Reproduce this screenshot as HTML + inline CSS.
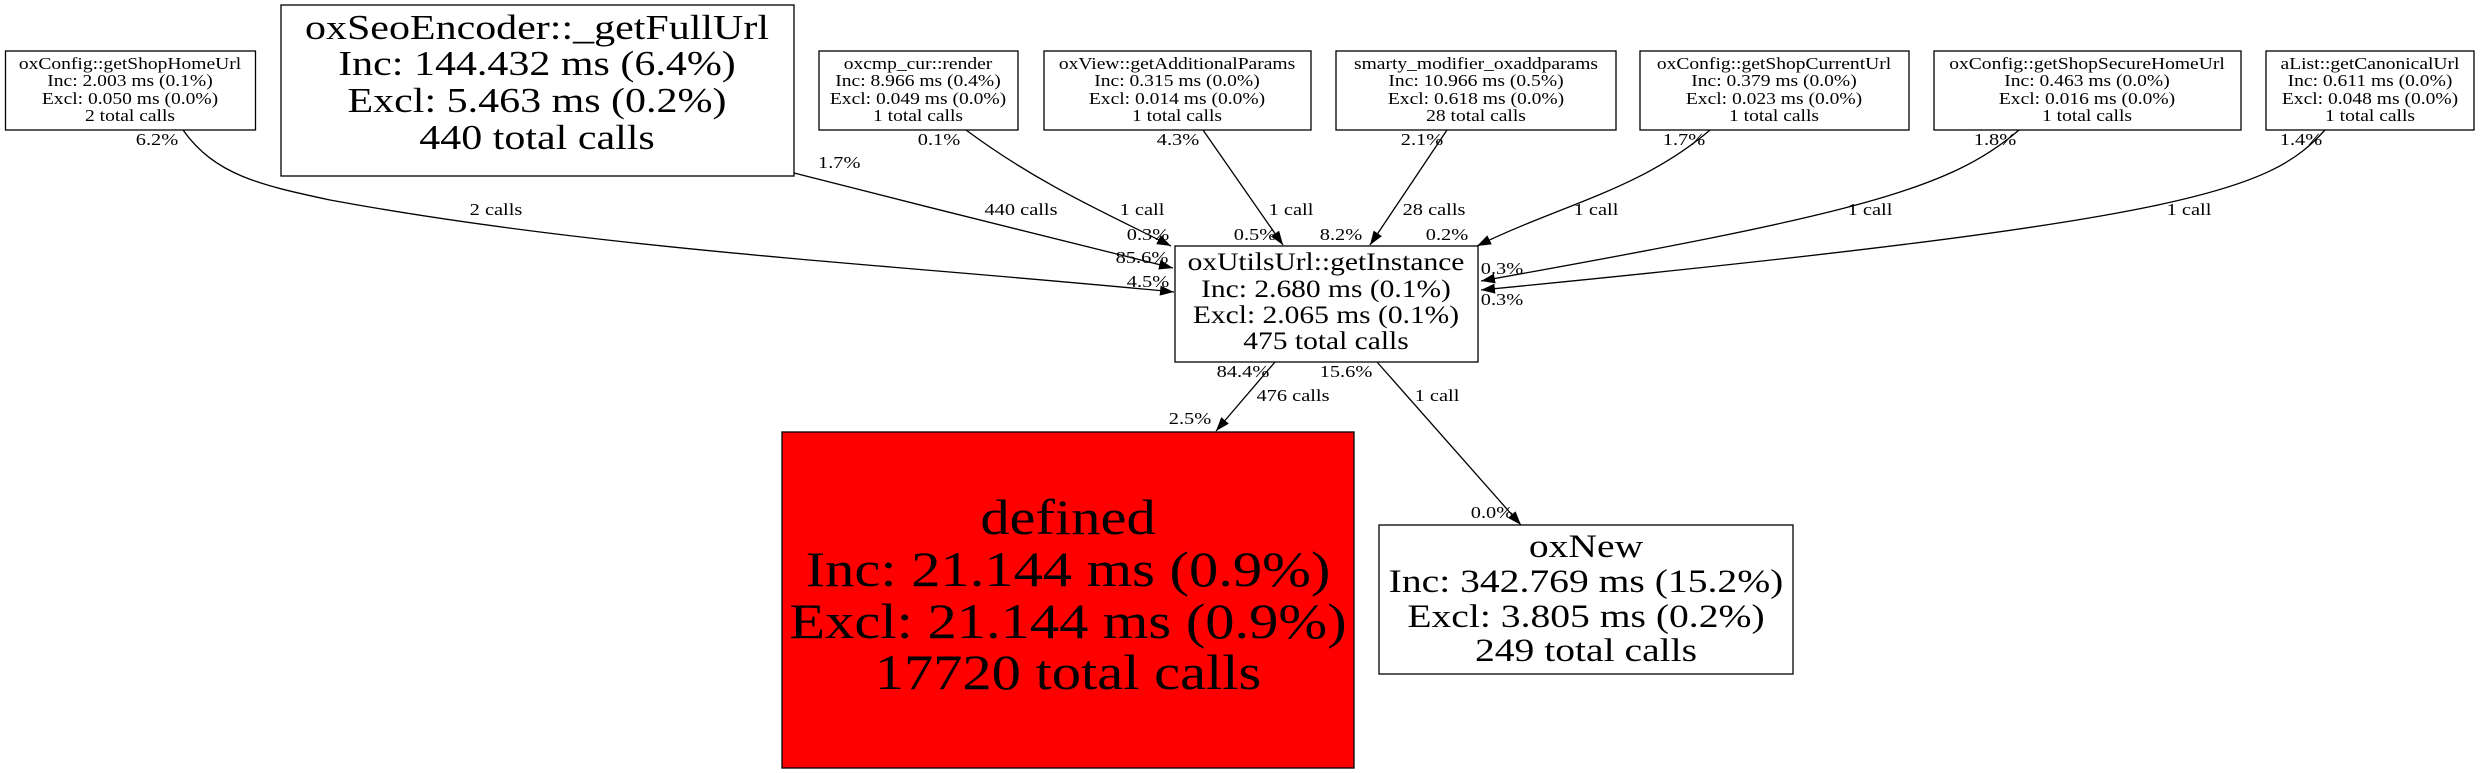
<!DOCTYPE html>
<html><head><meta charset="utf-8"><style>
html,body{margin:0;padding:0;background:#fff;}
svg{display:block}
text{font-family:"Liberation Serif",serif;fill:#000;text-anchor:middle}
.s{font-size:17px}
.e{font-size:17px}
</style></head><body>
<svg width="2480" height="773" viewBox="0 0 2480 773" xmlns="http://www.w3.org/2000/svg">
<defs>
<marker id="a" markerUnits="userSpaceOnUse" markerWidth="16" markerHeight="12" refX="14" refY="5" orient="auto">
<path d="M0,0 L14,5 L0,10 Z" fill="#000"/>
</marker>
</defs>
<g fill="none" stroke="#000" stroke-width="1.3">
<rect x="5.5" y="51" width="250" height="79"/>
<rect x="281" y="5" width="513" height="171"/>
<rect x="819" y="51" width="199" height="79"/>
<rect x="1044" y="51" width="267" height="79"/>
<rect x="1336" y="51" width="280" height="79"/>
<rect x="1640" y="51" width="269" height="79"/>
<rect x="1934" y="51" width="307" height="79"/>
<rect x="2266" y="51" width="208" height="79"/>
<rect x="1175" y="246" width="303" height="116"/>
<rect x="782" y="432" width="572" height="336" fill="#ff0000"/>
<rect x="1379" y="525" width="414" height="149"/>
<path d="M183,130 C215,175 260,185 330,200 C600,250 900,265 1174,292" marker-end="url(#a)"/>
<path d="M794,173 C920,205 1050,238 1173,268" marker-end="url(#a)"/>
<path d="M966,130 C1040,185 1110,215 1171,246" marker-end="url(#a)"/>
<path d="M1203,130 L1283,245" marker-end="url(#a)"/>
<path d="M1447,130 L1370,245" marker-end="url(#a)"/>
<path d="M1710,130 C1640,190 1560,205 1477,246" marker-end="url(#a)"/>
<path d="M2019,130 C1950,190 1850,215 1481,281" marker-end="url(#a)"/>
<path d="M2325,130 C2270,190 2200,220 1481,290" marker-end="url(#a)"/>
<path d="M1275,362 L1216,431" marker-end="url(#a)"/>
<path d="M1377,362 L1521,525" marker-end="url(#a)"/>
</g>
<g class="s">
<text transform="translate(130,69) scale(1.15,1)">oxConfig::getShopHomeUrl</text>
<text transform="translate(130,86) scale(1.15,1)">Inc: 2.003 ms (0.1%)</text>
<text transform="translate(130,104) scale(1.15,1)">Excl: 0.050 ms (0.0%)</text>
<text transform="translate(130,121) scale(1.15,1)">2 total calls</text>

<text transform="translate(918,69) scale(1.15,1)">oxcmp_cur::render</text>
<text transform="translate(918,86) scale(1.15,1)">Inc: 8.966 ms (0.4%)</text>
<text transform="translate(918,104) scale(1.15,1)">Excl: 0.049 ms (0.0%)</text>
<text transform="translate(918,121) scale(1.15,1)">1 total calls</text>

<text transform="translate(1177,69) scale(1.15,1)">oxView::getAdditionalParams</text>
<text transform="translate(1177,86) scale(1.15,1)">Inc: 0.315 ms (0.0%)</text>
<text transform="translate(1177,104) scale(1.15,1)">Excl: 0.014 ms (0.0%)</text>
<text transform="translate(1177,121) scale(1.15,1)">1 total calls</text>

<text transform="translate(1476,69) scale(1.15,1)">smarty_modifier_oxaddparams</text>
<text transform="translate(1476,86) scale(1.15,1)">Inc: 10.966 ms (0.5%)</text>
<text transform="translate(1476,104) scale(1.15,1)">Excl: 0.618 ms (0.0%)</text>
<text transform="translate(1476,121) scale(1.15,1)">28 total calls</text>

<text transform="translate(1774,69) scale(1.15,1)">oxConfig::getShopCurrentUrl</text>
<text transform="translate(1774,86) scale(1.15,1)">Inc: 0.379 ms (0.0%)</text>
<text transform="translate(1774,104) scale(1.15,1)">Excl: 0.023 ms (0.0%)</text>
<text transform="translate(1774,121) scale(1.15,1)">1 total calls</text>

<text transform="translate(2087,69) scale(1.15,1)">oxConfig::getShopSecureHomeUrl</text>
<text transform="translate(2087,86) scale(1.15,1)">Inc: 0.463 ms (0.0%)</text>
<text transform="translate(2087,104) scale(1.15,1)">Excl: 0.016 ms (0.0%)</text>
<text transform="translate(2087,121) scale(1.15,1)">1 total calls</text>

<text transform="translate(2370,69) scale(1.15,1)">aList::getCanonicalUrl</text>
<text transform="translate(2370,86) scale(1.15,1)">Inc: 0.611 ms (0.0%)</text>
<text transform="translate(2370,104) scale(1.15,1)">Excl: 0.048 ms (0.0%)</text>
<text transform="translate(2370,121) scale(1.15,1)">1 total calls</text>
</g>
<g style="font-size:35px">
<text transform="translate(537,39) scale(1.2,1)">oxSeoEncoder::_getFullUrl</text>
<text transform="translate(537,75) scale(1.2,1)">Inc: 144.432 ms (6.4%)</text>
<text transform="translate(537,112) scale(1.2,1)">Excl: 5.463 ms (0.2%)</text>
<text transform="translate(537,149) scale(1.2,1)">440 total calls</text>
</g>
<g style="font-size:25px">
<text transform="translate(1326,270) scale(1.18,1)">oxUtilsUrl::getInstance</text>
<text transform="translate(1326,297) scale(1.18,1)">Inc: 2.680 ms (0.1%)</text>
<text transform="translate(1326,323) scale(1.18,1)">Excl: 2.065 ms (0.1%)</text>
<text transform="translate(1326,349) scale(1.18,1)">475 total calls</text>
</g>
<g style="font-size:50px">
<text transform="translate(1068,534) scale(1.17,1)">defined</text>
<text transform="translate(1068,586) scale(1.17,1)">Inc: 21.144 ms (0.9%)</text>
<text transform="translate(1068,638) scale(1.17,1)">Excl: 21.144 ms (0.9%)</text>
<text transform="translate(1068,689) scale(1.17,1)">17720 total calls</text>
</g>
<g style="font-size:33px">
<text transform="translate(1586,557) scale(1.2,1)">oxNew</text>
<text transform="translate(1586,592) scale(1.2,1)">Inc: 342.769 ms (15.2%)</text>
<text transform="translate(1586,627) scale(1.2,1)">Excl: 3.805 ms (0.2%)</text>
<text transform="translate(1586,661) scale(1.2,1)">249 total calls</text>
</g>
<g class="e">
<text transform="translate(157,145) scale(1.2,1)">6.2%</text>
<text transform="translate(496,215) scale(1.2,1)">2 calls</text>
<text transform="translate(1148,287) scale(1.2,1)">4.5%</text>
<text transform="translate(818,168) scale(1.2,1)" style="text-anchor:start">1.7%</text>
<text transform="translate(1021,215) scale(1.2,1)">440 calls</text>
<text transform="translate(1142,263) scale(1.2,1)">85.6%</text>
<text transform="translate(939,145) scale(1.2,1)">0.1%</text>
<text transform="translate(1142,215) scale(1.2,1)">1 call</text>
<text transform="translate(1148,240) scale(1.2,1)">0.3%</text>
<text transform="translate(1178,145) scale(1.2,1)">4.3%</text>
<text transform="translate(1291,215) scale(1.2,1)">1 call</text>
<text transform="translate(1255,240) scale(1.2,1)">0.5%</text>
<text transform="translate(1422,145) scale(1.2,1)">2.1%</text>
<text transform="translate(1434,215) scale(1.2,1)">28 calls</text>
<text transform="translate(1341,240) scale(1.2,1)">8.2%</text>
<text transform="translate(1684,145) scale(1.2,1)">1.7%</text>
<text transform="translate(1596,215) scale(1.2,1)">1 call</text>
<text transform="translate(1447,240) scale(1.2,1)">0.2%</text>
<text transform="translate(1995,145) scale(1.2,1)">1.8%</text>
<text transform="translate(1870,215) scale(1.2,1)">1 call</text>
<text transform="translate(1502,274) scale(1.2,1)">0.3%</text>
<text transform="translate(2301,145) scale(1.2,1)">1.4%</text>
<text transform="translate(2189,215) scale(1.2,1)">1 call</text>
<text transform="translate(1502,305) scale(1.2,1)">0.3%</text>
<text transform="translate(1243,377) scale(1.2,1)">84.4%</text>
<text transform="translate(1293,401) scale(1.2,1)">476 calls</text>
<text transform="translate(1190,424) scale(1.2,1)">2.5%</text>
<text transform="translate(1346,377) scale(1.2,1)">15.6%</text>
<text transform="translate(1437,401) scale(1.2,1)">1 call</text>
<text transform="translate(1492,518) scale(1.2,1)">0.0%</text>
</g>
</svg>
</body></html>
